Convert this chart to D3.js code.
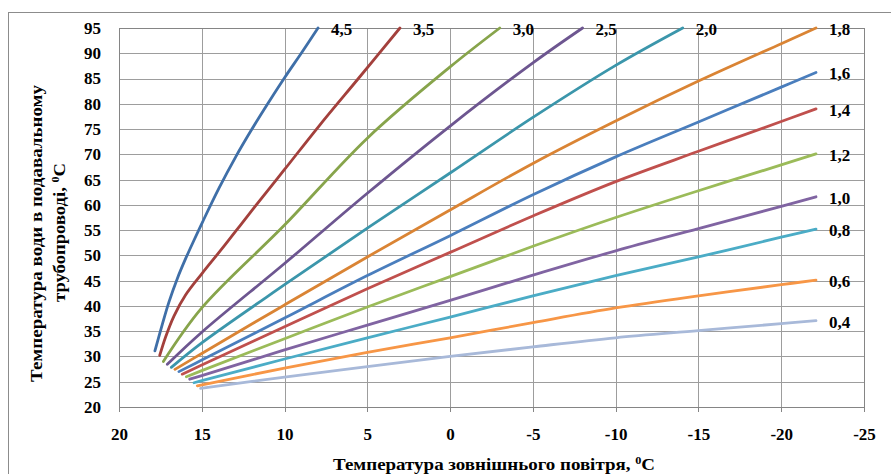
<!DOCTYPE html>
<html>
<head>
<meta charset="utf-8">
<script src="https://cdn.jsdelivr.net/npm/d3@7"></script>
<style>
  body { margin: 0; background: #fff; }
  svg { display: block; }
  svg text { font-family: "Liberation Serif", "Times New Roman", "DejaVu Serif", serif !important; font-weight: bold; fill: #000; }
</style>
</head>
<body>
<svg id="chart"></svg>
<script>
// curve labels (slope of heating curve)
const slopeLabels = ["4,5", "3,5", "3,0", "2,5", "2,0", "1,8", "1,6", "1,4", "1,2", "1,0", "0,8", "0,6", "0,4"];
const lineColors = ["#3f6fa8", "#a3403c", "#87a44b", "#6d5690", "#3b96ab", "#da8434",
                    "#4a7ebd", "#c0504d", "#9bbb59", "#8064a2", "#4bacc6", "#f79646", "#a8b9d9"];

// outdoor temperature (x) and supply water temperature (y) per curve
const out45 = [17.83, 17.38, 16.98, 16.48, 15.97, 15.47, 14.97, 13.96, 12.95, 11.95, 10.94, 9.99, 8.93, 7.98];
const sup45 = [31.1, 36.4, 40.8, 45.4, 49.4, 53.0, 56.5, 63.3, 69.5, 75.1, 80.4, 85.2, 90.3, 95.0];
const out35 = [17.54, 17.18, 16.68, 15.97, 14.99, 13.96, 12.95, 11.85, 10.0, 7.92, 5.44, 3.03];
const sup35 = [30.2, 33.9, 38.0, 42.2, 46.4, 50.6, 54.8, 59.4, 67.0, 75.6, 85.4, 95.0];
const out30 = [17.32, 15.0, 10.0, 5.0, 0, -3.0];
const sup30 = [29.0, 39.6, 56.0, 73.2, 87.3, 95.0];
const out25 = [17.08, 15, 10, 5, 0, -5, -8.0];
const sup25 = [28.45, 34.8, 48.4, 62.3, 75.6, 88.1, 95.0];
const out20 = [16.84, 15, 10, 5, 0, -5, -10, -14.05];
const sup20 = [27.85, 32.7, 44.2, 55.4, 66.3, 77.3, 87.6, 95.0];
const out18 = [16.62, 15, 10, 5, 0, -5, -10, -15, -20, -22.1];
const sup18 = [27.45, 30.6, 40.2, 49.7, 59.0, 68.2, 76.6, 84.5, 91.9, 95.0];
const out16 = [16.38, 15, 10, 5, 0, -5, -10, -15, -20, -22.1];
const sup16 = [27.0, 29.3, 37.6, 46.0, 53.9, 62.0, 69.5, 76.4, 83.3, 86.2];
const out14 = [16.18, 15, 10, 5, 0, -5, -10, -15, -20, -22.1];
const sup14 = [26.5, 28.3, 35.9, 43.4, 50.6, 57.8, 64.6, 70.6, 76.5, 79.0];
const out12 = [15.93, 15, 10, 5, 0, -5, -10, -15, -20, -22.1];
const sup12 = [26.0, 27.2, 33.5, 39.8, 45.8, 51.8, 57.5, 62.8, 67.9, 70.1];
const out10 = [15.73, 15, 10, 5, 0, -5, -10, -15, -20, -22.1];
const sup10 = [25.5, 26.2, 31.3, 36.2, 41.1, 46.1, 50.9, 55.3, 59.7, 61.6];
const out08 = [15.47, 15, 10, 5, 0, -5, -10, -15, -20, -22.1];
const sup08 = [24.8, 25.2, 29.5, 33.7, 37.8, 42.0, 46.0, 49.7, 53.6, 55.2];
const out06 = [15.27, 10, 5, 0, -5, -10, -15, -20, -22.1];
const sup06 = [24.2, 27.7, 30.8, 33.7, 36.7, 39.6, 42.0, 44.2, 45.1];
const out04 = [15.07, 10, 5, 0, -5, -10, -15, -20, -22.1];
const sup04 = [23.7, 25.9, 28.0, 30.0, 31.9, 33.7, 35.1, 36.5, 37.1];

const xTicks = [20, 15, 10, 5, 0, -5, -10, -15, -20, -25];
const yTicks = [20, 25, 30, 35, 40, 45, 50, 55, 60, 65, 70, 75, 80, 85, 90, 95];

const seriesX = [out45, out35, out30, out25, out20, out18, out16, out14, out12, out10, out08, out06, out04];
const seriesY = [sup45, sup35, sup30, sup25, sup20, sup18, sup16, sup14, sup12, sup10, sup08, sup06, sup04];

const W = 891, H = 474;
const margin = { top: 28, right: 27, bottom: 67, left: 119 };
const width = W - margin.left - margin.right;
const height = H - margin.top - margin.bottom;

const svg = d3.select("#chart").attr("width", W).attr("height", H);

// outer chart border
svg.append("rect")
  .attr("x", 8.5).attr("y", 12.5)
  .attr("width", 900).attr("height", 500)
  .attr("fill", "none").attr("stroke", "#8c8c8c");

const g = svg.append("g").attr("transform", `translate(${margin.left},${margin.top})`);

const x = d3.scaleLinear().domain([20, -25]).range([0, width]);
const y = d3.scaleLinear().domain([20, 95]).range([height, 0]);

// gridlines
g.append("g")
  .attr("class", "grid")
  .call(d3.axisLeft(y).tickValues(yTicks).tickSize(-width).tickFormat(""))
  .call(s => s.select(".domain").remove())
  .selectAll("line").attr("stroke", "#9d9d9d").attr("shape-rendering", "crispEdges");

g.append("g")
  .attr("class", "grid")
  .attr("transform", `translate(0,${height})`)
  .call(d3.axisBottom(x).tickValues(xTicks).tickSize(-height).tickFormat(""))
  .call(s => s.select(".domain").remove())
  .selectAll("line").attr("stroke", "#9d9d9d").attr("shape-rendering", "crispEdges");

// plot frame
g.append("rect")
  .attr("width", width).attr("height", height)
  .attr("fill", "none").attr("stroke", "#858585").attr("shape-rendering", "crispEdges");

// x axis labels + little ticks below
g.append("g")
  .attr("transform", `translate(0,${height})`)
  .call(d3.axisBottom(x).tickValues(xTicks).tickSize(5).tickPadding(16).tickFormat(d => String(d)))
  .call(s => s.select(".domain").remove())
  .call(s => s.selectAll("line").attr("stroke", "#858585").attr("shape-rendering", "crispEdges"))
  .selectAll("text")
  .attr("font-size", 17).attr("fill", "#000");

// y axis labels
g.append("g")
  .call(d3.axisLeft(y).tickValues(yTicks).tickSize(0).tickPadding(18).tickFormat(d => String(d)))
  .call(s => s.select(".domain").remove())
  .selectAll("text")
  .attr("font-size", 17).attr("fill", "#000");

// curves
const line = d3.line()
  .x(d => x(d[0]))
  .y(d => y(d[1]))
  .curve(d3.curveCatmullRom.alpha(0.5));

const series = slopeLabels.map((label, i) => ({
  label,
  color: lineColors[i],
  points: seriesX[i].map((t, j) => [t, seriesY[i][j]])
}));

g.selectAll(".curve")
  .data(series)
  .enter().append("path")
  .attr("class", "curve")
  .attr("d", d => line(d.points))
  .attr("fill", "none")
  .attr("stroke", d => d.color)
  .attr("stroke-width", 2.8)
  .attr("stroke-linecap", "round");

// curve end labels
g.selectAll(".curve-label")
  .data(series)
  .enter().append("text")
  .attr("class", "curve-label")
  .attr("x", d => x(d.points[d.points.length - 1][0]) + 13)
  .attr("y", d => y(d.points[d.points.length - 1][1]) + 1)
  .attr("dy", "0.35em")
  .attr("font-size", 17)
  .text(d => d.label);

// x axis title
const xTitle = svg.append("text")
  .attr("x", 333)
  .attr("y", 470)
  .attr("font-size", 17)
  .attr("textLength", 322)
  .attr("lengthAdjust", "spacingAndGlyphs");
xTitle.append("tspan").text("Температура зовнішнього повітря, ");
xTitle.append("tspan").attr("font-size", 11).attr("dy", -6).text("0");
xTitle.append("tspan").attr("dy", 6).text("C");

// y axis title (two lines)
const yTitle = svg.append("text")
  .attr("transform", "translate(42,382) rotate(-90)")
  .attr("font-size", 17)
  .attr("textLength", 297)
  .attr("lengthAdjust", "spacingAndGlyphs");
yTitle.append("tspan").text("Температура води в подавальному");
const l2 = svg.append("text")
  .attr("transform", "translate(65,302) rotate(-90)")
  .attr("font-size", 17)
  .attr("textLength", 139)
  .attr("lengthAdjust", "spacingAndGlyphs");
l2.append("tspan").text("трубопроводі, ");
l2.append("tspan").attr("font-size", 11).attr("dy", -6).text("0");
l2.append("tspan").attr("dy", 6).text("C");
</script>
</body>
</html>
